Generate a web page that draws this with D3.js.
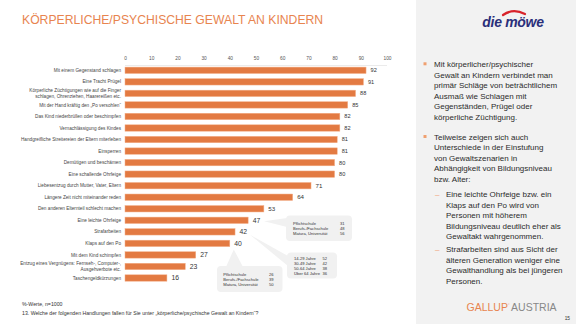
<!DOCTYPE html>
<html><head><meta charset="utf-8">
<script src="https://cdn.jsdelivr.net/npm/d3@7"></script>
<style>
html,body{margin:0;padding:0;background:#fff;}
svg{display:block;font-family:"Liberation Sans",Arial,sans-serif;}
</style></head>
<body>
<svg id="c" width="576" height="324"></svg>
<script>
const categories = [
  "Mit einem Gegenstand schlagen",
  "Eine Tracht Prügel",
  "Körperliche Züchtigungen wie auf die Finger|schlagen, Ohrenziehen, Haarereißen etc.",
  "Mit der Hand kräftig den „Po versohlen“",
  "Das Kind niederbrüllen oder beschimpfen",
  "Vernachlässigung des Kindes",
  "Handgreifliche Streitereien der Eltern miterleben",
  "Einsperren",
  "Demütigen und beschämen",
  "Eine schallende Ohrfeige",
  "Liebesentzug durch Mutter, Vater, Eltern",
  "Längere Zeit nicht miteinander reden",
  "Den anderen Elternteil schlecht machen",
  "Eine leichte Ohrfeige",
  "Strafarbeiten",
  "Klaps auf den Po",
  "Mit dem Kind schimpfen",
  "Entzug eines Vergnügens: Fernseh-, Computer-,|Ausgehverbote etc.",
  "Taschengeldkürzungen"
];
const values = [92,91,88,85,82,82,81,81,80,80,71,64,53,47,42,40,27,23,16];
const tickValues = [0,10,20,30,40,50,60,70,80,90,100];

const calloutEducation1 = ["Pflichtschule","Berufs-/Fachschule","Matura, Universität"];
const calloutEducation1Values = [31,48,56];
const calloutAge = ["14-29 Jahre","30-49 Jahre","50-64 Jahre","Über 64 Jahre"];
const calloutAgeValues = [52,42,38,36];
const calloutEducation2 = ["Pflichtschule","Berufs-/Fachschule","Matura, Universität"];
const calloutEducation2Values = [26,39,50];

const bullet1 = ["Mit körperlicher/psychischer","Gewalt an Kindern verbindet man","primär Schläge von beträchtlichem","Ausmaß wie Schlagen mit","Gegenständen, Prügel oder","körperliche Züchtigung."];
const bullet2 = ["Teilweise zeigen sich auch","Unterschiede in der Einstufung","von Gewaltszenarien in","Abhängigkeit von Bildungsniveau","bzw. Alter:"];
const sub1 = ["Eine leichte Ohrfeige bzw. ein","Klaps auf den Po wird von","Personen mit höherem","Bildungsniveau deutlich eher als","Gewaltakt wahrgenommen."];
const sub2 = ["Strafarbeiten sind aus Sicht der","älteren Generation weniger eine","Gewalthandlung als bei jüngeren","Personen."];

const orange = "#E37A42";
const svg = d3.select("#c");

// right panel
svg.append("rect").attr("x",416).attr("y",0).attr("width",160).attr("height",324).attr("fill","#F2F2F2");

// title
svg.append("text").attr("x",22).attr("y",23.5).attr("font-size",12.2).attr("fill","#E8844F")
  .text("KÖRPERLICHE/PSYCHISCHE GEWALT AN KINDERN");

// logo
const logo = svg.append("g");
logo.append("path").attr("d","M503,15 Q513,8 525,14").attr("fill","none").attr("stroke","#D8232A").attr("stroke-width",2.2).attr("stroke-linecap","round");
logo.append("text").attr("x",513).attr("y",27).attr("text-anchor","middle").attr("font-size",14).attr("font-weight","bold").attr("font-style","italic").attr("fill","#2A2F7A").attr("letter-spacing",-0.3).text("die möwe");

// scales
const x = d3.scaleLinear().domain([0,100]).range([125,387]);
const y = d3.scalePoint().domain(categories).range([70.3,278]);
const bh = 6.4;

// top line
svg.append("line").attr("x1",x(0)).attr("x2",x(100)).attr("y1",65.5).attr("y2",65.5).attr("stroke","#EBEBEB").attr("stroke-width",1);

// axis ticks
const ax = d3.axisTop(x).tickValues(tickValues).tickSize(0).tickPadding(0);
const axg = svg.append("g").attr("transform","translate(0,60)").call(ax);
axg.select(".domain").remove();
axg.selectAll("text").attr("font-size",4.8).attr("fill","#555").attr("font-family","Liberation Sans, Arial, sans-serif");

// bars
svg.selectAll("rect.bar").data(values).join("rect").attr("class","bar")
  .attr("x",x(0)).attr("y",(d,i)=>y(categories[i])-bh/2)
  .attr("width",d=>x(d)-x(0)).attr("height",bh)
  .attr("fill",orange).attr("stroke","#F3B08A").attr("stroke-width",0.5);

// value labels
svg.selectAll("text.val").data(values).join("text").attr("class","val")
  .attr("x",d=>x(d)+4.5).attr("y",(d,i)=>y(categories[i]))
  .attr("dy","0.35em")
  .attr("font-size",(d,i)=> i<10 ? 5.6 : (i<13 ? 6.2 : 6.8))
  .attr("fill","#333").text(d=>d);

// category labels
const cl = svg.selectAll("text.cat").data(categories).join("text").attr("class","cat")
  .attr("x",121).attr("y",d=>y(d)).attr("text-anchor","end")
  .attr("font-size",4.7).attr("fill","#444");
cl.each(function(d){
  const parts = d.split("|");
  const t = d3.select(this);
  parts.forEach((p,k)=>{
    t.append("tspan").attr("x",121)
      .attr("dy", k===0 ? (parts.length===1 ? "0.35em" : (-0.65+0.35)+"em") : "1.2em")
      .text(p);
  });
});

// callouts
function callout(rx,ry,rw,rh,pointer,labels,vals,tx,vx,ty0,step){
  const g = svg.append("g");
  g.append("path").attr("d",pointer).attr("fill","#F1F1F1");
  g.append("rect").attr("x",rx).attr("y",ry).attr("width",rw).attr("height",rh).attr("rx",4).attr("fill","#F1F1F1");
  labels.forEach((l,i)=>{
    g.append("text").attr("x",tx).attr("y",ty0+i*step).attr("dy","0.35em").attr("font-size",4.1).attr("fill","#333").text(l);
    g.append("text").attr("x",vx).attr("y",ty0+i*step).attr("dy","0.35em").attr("font-size",4.1).attr("fill","#333").text(vals[i]);
  });
}
const yA = y(categories[13]), yB = y(categories[14]), yC = y(categories[15]);
callout(286,215.5,66,25.5,`M${x(47)+16},${yA+1} L287,218 L287,227 Z`,
  calloutEducation1,calloutEducation1Values,293,340,223.3,5);
callout(287,252.5,50,26,`M${x(42)+15},${yB+3} L288,256 L288,266 Z`,
  calloutAge,calloutAgeValues,294,322.5,258.7,4.9);
callout(217,266,65.5,26,`M${x(40)+4},${yC+6} L226,267 L243,267 Z`,
  calloutEducation2,calloutEducation2Values,223.3,269,274.3,4.9);

// footnotes
svg.append("text").attr("x",22).attr("y",306).attr("font-size",5.2).attr("fill","#333").text("%-Werte, n=1000");
svg.append("text").attr("x",22).attr("y",314.5).attr("font-size",5.2).attr("fill","#333")
  .text("13. Welche der folgenden Handlungen fallen für Sie unter „körperliche/psychische Gewalt an Kindern“?");

// bullets
const fs = 8, lh = 10.55;
function lines(arr, x0, y0){
  const t = svg.append("text").attr("font-size",fs).attr("fill","#2b2b2b");
  arr.forEach((s,i)=>t.append("tspan").attr("x",x0).attr("y",y0+i*lh).attr("dy","0.35em").text(s));
}
svg.append("rect").attr("x",423.5).attr("y",62.3).attr("width",3).attr("height",3).attr("fill","#F0A070");
lines(bullet1,434,64.3);
svg.append("rect").attr("x",423.5).attr("y",135).attr("width",3).attr("height",3).attr("fill","#F0A070");
lines(bullet2,434,137);
svg.append("text").attr("x",435).attr("y",194.3).attr("dy","0.35em").attr("font-size",fs).attr("fill","#F0A070").text("–");
lines(sub1,446,194.3);
svg.append("text").attr("x",435).attr("y",249.3).attr("dy","0.35em").attr("font-size",fs).attr("fill","#F0A070").text("–");
lines(sub2,446,249.3);

// gallup
const gl = svg.append("text").attr("x",466.5).attr("y",310.5).attr("font-size",10.5);
gl.append("tspan").attr("fill","#E8844F").text("GALLUP");
gl.append("tspan").attr("fill","#E8844F").attr("font-size",4).attr("dy",-5).text("°");
gl.append("tspan").attr("fill","#888").attr("dy",5).attr("dx",1.5).text("AUSTRIA");
svg.append("text").attr("x",570).attr("y",319.5).attr("text-anchor","end").attr("font-size",4.8).attr("fill","#333").text("15");
</script>
</body></html>
